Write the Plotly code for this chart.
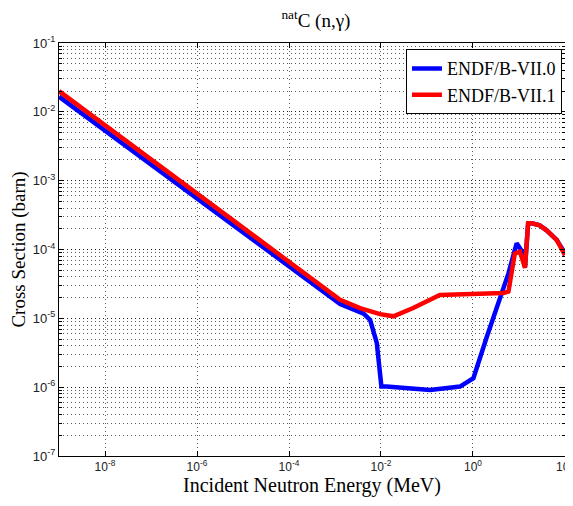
import plotly.graph_objects as go

# ENDF/B-VII.0 (blue)
e_b70 = [1e-9, 1.74e-4, 1.29e-3, 4.2e-3, 5.8e-3, 8.1e-3, 1.02e-2, 1.32e-2, 0.117, 0.52,
         1.02, 2.0, 3.9, 5.9, 8.9, 11.5, 13.5, 15.8, 19.1, 28.2, 39.8, 66.0, 91.0, 100.0]
xs_b70 = [0.0166, 4.3e-5, 1.62e-5, 1.17e-5, 9.5e-6, 4.4e-6, 1.02e-6, 1.02e-6, 9.1e-7, 1.02e-6,
          1.35e-6, 5.4e-6, 2.04e-5, 4.5e-5, 1.23e-4, 9.5e-5, 5.6e-5, 2.4e-4, 2.4e-4, 2.24e-4,
          1.9e-4, 1.38e-4, 9.8e-5, 8.3e-5]

# ENDF/B-VII.1 (red)
e_b71 = [1e-9, 1.74e-4, 4.7e-4, 1.29e-3, 3.5e-3, 9.5e-3, 1.86e-2, 5.0e-2, 0.19, 4.6,
         5.9, 8.1, 10.5, 13.5, 15.8, 19.1, 28.2, 39.8, 66.0, 91.0, 100.0]
xs_b71 = [0.020, 4.9e-5, 3.0e-5, 1.86e-5, 1.41e-5, 1.15e-5, 1.07e-5, 1.41e-5, 2.19e-5, 2.34e-5,
          2.45e-5, 8.7e-5, 9.3e-5, 5.4e-5, 2.4e-4, 2.4e-4, 2.24e-4, 1.9e-4, 1.38e-4, 9.8e-5, 8.3e-5]

x_tickvals = [1e-8, 1e-6, 1e-4, 1e-2, 1e0, 1e2]
x_ticktext = ["10<sup>-8</sup>", "10<sup>-6</sup>", "10<sup>-4</sup>", "10<sup>-2</sup>",
              "10<sup>0</sup>", "10<sup>2</sup>"]
y_tickvals = [1e-7, 1e-6, 1e-5, 1e-4, 1e-3, 1e-2, 1e-1]
y_ticktext = ["10<sup>-7</sup>", "10<sup>-6</sup>", "10<sup>-5</sup>", "10<sup>-4</sup>",
              "10<sup>-3</sup>", "10<sup>-2</sup>", "10<sup>-1</sup>"]

serif = "Liberation Serif, Times New Roman, serif"
sans = "Liberation Sans, Arial, sans-serif"

fig = go.Figure()
fig.add_trace(go.Scatter(x=e_b70, y=xs_b70, mode="lines", name="ENDF/B-VII.0",
                         line=dict(color="#0000ff", width=4.5)))
fig.add_trace(go.Scatter(x=e_b71, y=xs_b71, mode="lines", name="ENDF/B-VII.1",
                         line=dict(color="#ff0000", width=4.5)))

gcol = "rgba(0,0,0,0.65)"
gdash = "1px,3px"

fig.update_xaxes(type="log", range=[-9, 2.0002], tickvals=x_tickvals, ticktext=x_ticktext,
                 ticks="inside", ticklen=5, tickcolor="black", mirror="allticks",
                 showline=True, linecolor="black", linewidth=1,
                 showgrid=True, gridcolor=gcol, gridwidth=1, griddash=gdash,
                 zeroline=False, automargin=False, ticklabeloverflow="allow",
                 tickfont=dict(family=sans, size=12, color="#222"),
                 title=dict(text="Incident Neutron Energy (MeV)",
                            font=dict(family=serif, size=20, color="black"), standoff=3))
fig.update_yaxes(type="log", range=[-7, -1], tickvals=y_tickvals, ticktext=y_ticktext,
                 ticks="inside", ticklen=5, tickcolor="black", mirror="allticks",
                 showline=True, linecolor="black", linewidth=1,
                 showgrid=True, gridcolor=gcol, gridwidth=1, griddash=gdash,
                 zeroline=False, automargin=False, ticklabeloverflow="allow",
                 minor=dict(dtick="D1", showgrid=True, ticks="inside", ticklen=3,
                            tickcolor="black", gridcolor=gcol, gridwidth=1, griddash=gdash),
                 tickfont=dict(family=sans, size=13, color="#222"),
                 title=dict(text="Cross Section (barn)",
                            font=dict(family=serif, size=19, color="black"), standoff=6))

# the page body adds an 8px margin, so the figure is sized to fit inside it
fig.update_layout(
    width=565, height=498,
    margin=dict(l=51, r=8, t=35, b=50),
    paper_bgcolor="white", plot_bgcolor="white",
    title=dict(text="<sup>nat</sup>C (n,γ)", x=0.545, xanchor="center", y=0.975, yanchor="middle",
               font=dict(family=serif, size=19, color="black")),
    legend=dict(x=0.994, y=0.985, xanchor="right", yanchor="top",
                bgcolor="white", bordercolor="black", borderwidth=1,
                font=dict(family=serif, size=18, color="black"),
                tracegroupgap=0),
    showlegend=True,
)

fig.write_html("out.html")
